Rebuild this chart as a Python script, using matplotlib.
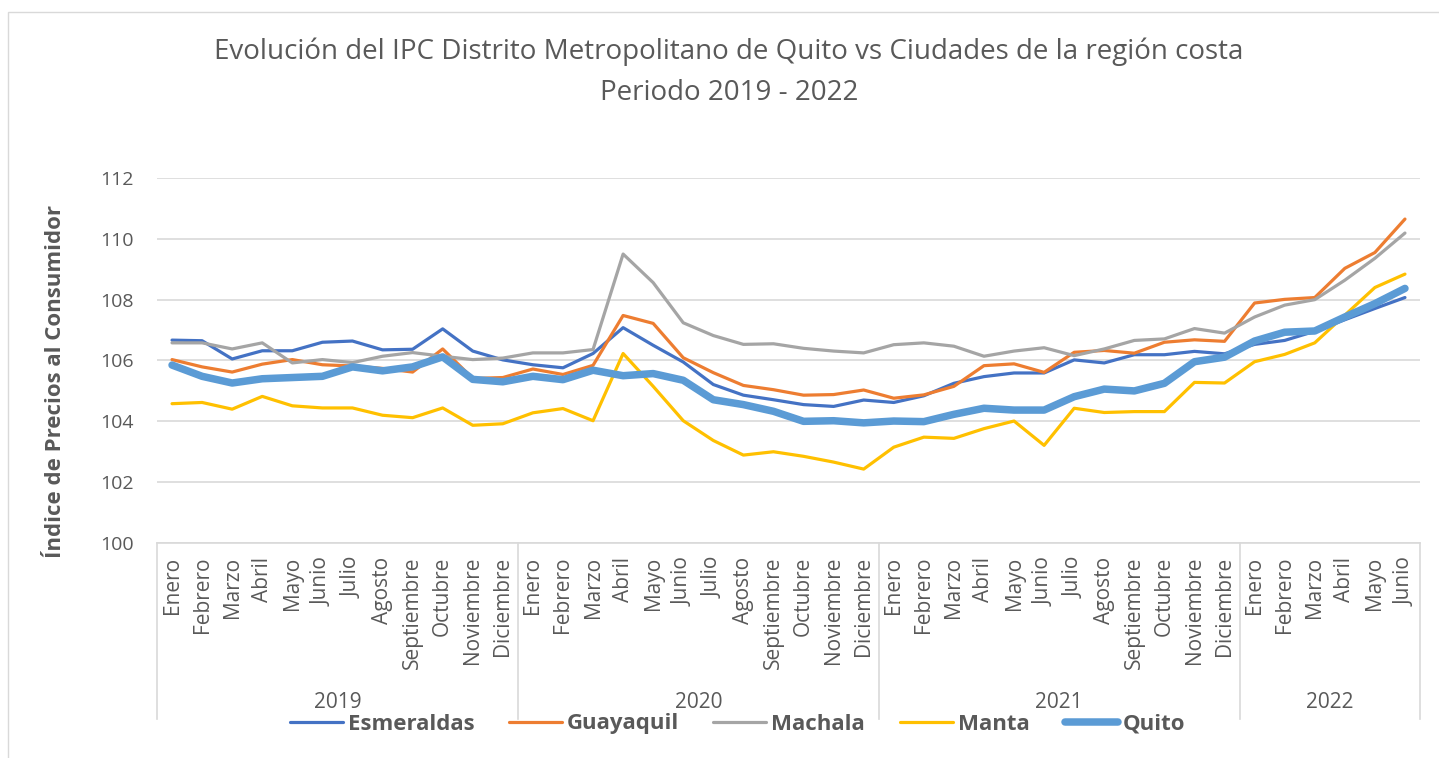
import matplotlib
matplotlib.use("Agg")
import matplotlib.pyplot as plt
from matplotlib.lines import Line2D
from matplotlib.patches import Rectangle

months = ["Enero", "Febrero", "Marzo", "Abril", "Mayo", "Junio", "Julio",
          "Agosto", "Septiembre", "Octubre", "Noviembre", "Diciembre"]
years = ["2019", "2020", "2021", "2022"]
months_per_year = [12, 12, 12, 6]
month_labels = months * 3 + months[:6]

esmeraldas = [106.67, 106.65, 106.05, 106.32, 106.32, 106.60, 106.64, 106.35, 106.37, 107.04, 106.31, 106.02,
              105.86, 105.76, 106.23, 107.08, 106.50, 105.95, 105.21, 104.86, 104.71, 104.55, 104.49, 104.70,
              104.62, 104.84, 105.25, 105.47, 105.59, 105.59, 106.02, 105.92, 106.19, 106.19, 106.30, 106.22,
              106.53, 106.66, 106.96, 107.34, 107.71, 108.07]
guayaquil = [106.03, 105.79, 105.62, 105.88, 106.03, 105.86, 105.82, 105.74, 105.62, 106.38, 105.41, 105.44,
             105.72, 105.54, 105.84, 107.48, 107.22, 106.09, 105.60, 105.18, 105.04, 104.86, 104.88, 105.03,
             104.76, 104.87, 105.15, 105.83, 105.89, 105.61, 106.27, 106.33, 106.24, 106.60, 106.68, 106.63,
             107.89, 108.01, 108.07, 109.03, 109.55, 110.65]
machala = [106.58, 106.58, 106.38, 106.58, 105.92, 106.03, 105.93, 106.14, 106.26, 106.14, 106.03, 106.08,
           106.25, 106.25, 106.36, 109.50, 108.56, 107.24, 106.82, 106.53, 106.55, 106.40, 106.31, 106.25,
           106.52, 106.58, 106.47, 106.14, 106.31, 106.42, 106.16, 106.38, 106.66, 106.71, 107.05, 106.90,
           107.43, 107.82, 108.00, 108.64, 109.36, 110.19]
manta = [104.58, 104.62, 104.40, 104.82, 104.51, 104.44, 104.44, 104.20, 104.12, 104.44, 103.87, 103.92,
         104.28, 104.42, 104.02, 106.23, 105.15, 104.02, 103.37, 102.89, 103.00, 102.85, 102.66, 102.43,
         103.15, 103.48, 103.44, 103.76, 104.01, 103.21, 104.43, 104.29, 104.32, 104.32, 105.28, 105.26,
         105.96, 106.20, 106.58, 107.49, 108.40, 108.84]
quito = [105.85, 105.48, 105.26, 105.40, 105.44, 105.48, 105.79, 105.66, 105.79, 106.12, 105.38, 105.30,
         105.48, 105.37, 105.68, 105.50, 105.57, 105.35, 104.71, 104.55, 104.33, 104.00, 104.02, 103.95,
         104.01, 103.99, 104.23, 104.43, 104.37, 104.37, 104.81, 105.06, 105.00, 105.25, 105.96, 106.11,
         106.64, 106.93, 106.97, 107.43, 107.87, 108.37]

series = [("Esmeraldas", esmeraldas, "#4472C4", 2.3),
          ("Guayaquil", guayaquil, "#ED7D31", 2.3),
          ("Machala", machala, "#A5A5A5", 2.3),
          ("Manta", manta, "#FFC000", 2.3),
          ("Quito", quito, "#5B9BD5", 5.4)]
legend_x_px = [290, 509, 713, 900, 1065]

plt.rcParams['font.family'] = ['Open Sans', 'DejaVu Sans']
TXT = "#595959"

W, H = 1439, 758
fig = plt.figure(figsize=(W / 100, H / 100), dpi=100)
fig.patch.set_facecolor("white")

# chart area border (left/top visible)
fig.add_artist(Rectangle((8 / W, -0.05), 1.2, 1 - 12 / H + 0.05, transform=fig.transFigure,
                         fill=False, edgecolor="#D9D9D9", linewidth=1.0))

left, right, top, bottom = 157, 1420, 178, 543
ax = fig.add_axes([left / W, (H - bottom) / H, (right - left) / W, (bottom - top) / H])

x = list(range(len(month_labels)))
handles = []
for name, vals, col, lw in series:
    h, = ax.plot(x, vals, color=col, linewidth=lw, label=name, solid_capstyle="round",
                 solid_joinstyle="round", zorder=3)
    handles.append(h)

ax.set_ylim(100, 112)
ax.set_xlim(-0.5, len(month_labels) - 0.5)
ax.set_yticks([100, 102, 104, 106, 108, 110, 112])
ax.yaxis.grid(True, color="#D9D9D9", linewidth=1.2)
ax.set_axisbelow(True)
for s in ["top", "right", "left"]:
    ax.spines[s].set_visible(False)
ax.spines["bottom"].set_color("#D9D9D9")
ax.spines["bottom"].set_linewidth(1.2)

ax.tick_params(axis="y", length=0, pad=17, labelsize=14, labelcolor=TXT)
ax.set_xticks(x)
ax.set_xticklabels(month_labels, rotation=90, va="top", ha="center", fontsize=15, color=TXT)
ax.tick_params(axis="x", length=0, pad=10)

# multi-level category axis separators and year labels
axh = bottom - top
sep_bottom = -(719 - bottom) / axh
bounds = [-0.5]
for n in months_per_year:
    bounds.append(bounds[-1] + n)
for b in bounds:
    ax.add_line(Line2D([b, b], [0, sep_bottom], transform=ax.get_xaxis_transform(),
                       color="#D9D9D9", linewidth=1.2, clip_on=False))
for i, yr in enumerate(years):
    ax.text((bounds[i] + bounds[i + 1]) / 2, -(702 - bottom) / axh, yr,
            transform=ax.get_xaxis_transform(), ha="center", va="center",
            fontsize=15, color=TXT)

fig.text(56 / W, 1 - 382 / H, "Índice de Precios al Consumidor", rotation=90,
         ha="center", va="center", fontsize=16, fontweight="bold", color=TXT)

fig.text(729 / W, 1 - 52 / H, "Evolución del IPC Distrito Metropolitano de Quito vs Ciudades de la región costa",
         ha="center", va="center", fontsize=20, color=TXT)
fig.text(729 / W, 1 - 93 / H, "Periodo 2019 - 2022", ha="center", va="center",
         fontsize=20, color=TXT)

for h, (name, _, _, _), lx in zip(handles, series, legend_x_px):
    leg = fig.legend([h], [name], loc="center left", bbox_to_anchor=(lx / W, 1 - 724 / H),
                     frameon=False, prop={"size": 16, "weight": "bold"}, handlelength=2.4,
                     handletextpad=0.2, borderpad=0, borderaxespad=0)
    for t in leg.get_texts():
        t.set_color(TXT)

fig.savefig("out.png", dpi=100, facecolor="white")
